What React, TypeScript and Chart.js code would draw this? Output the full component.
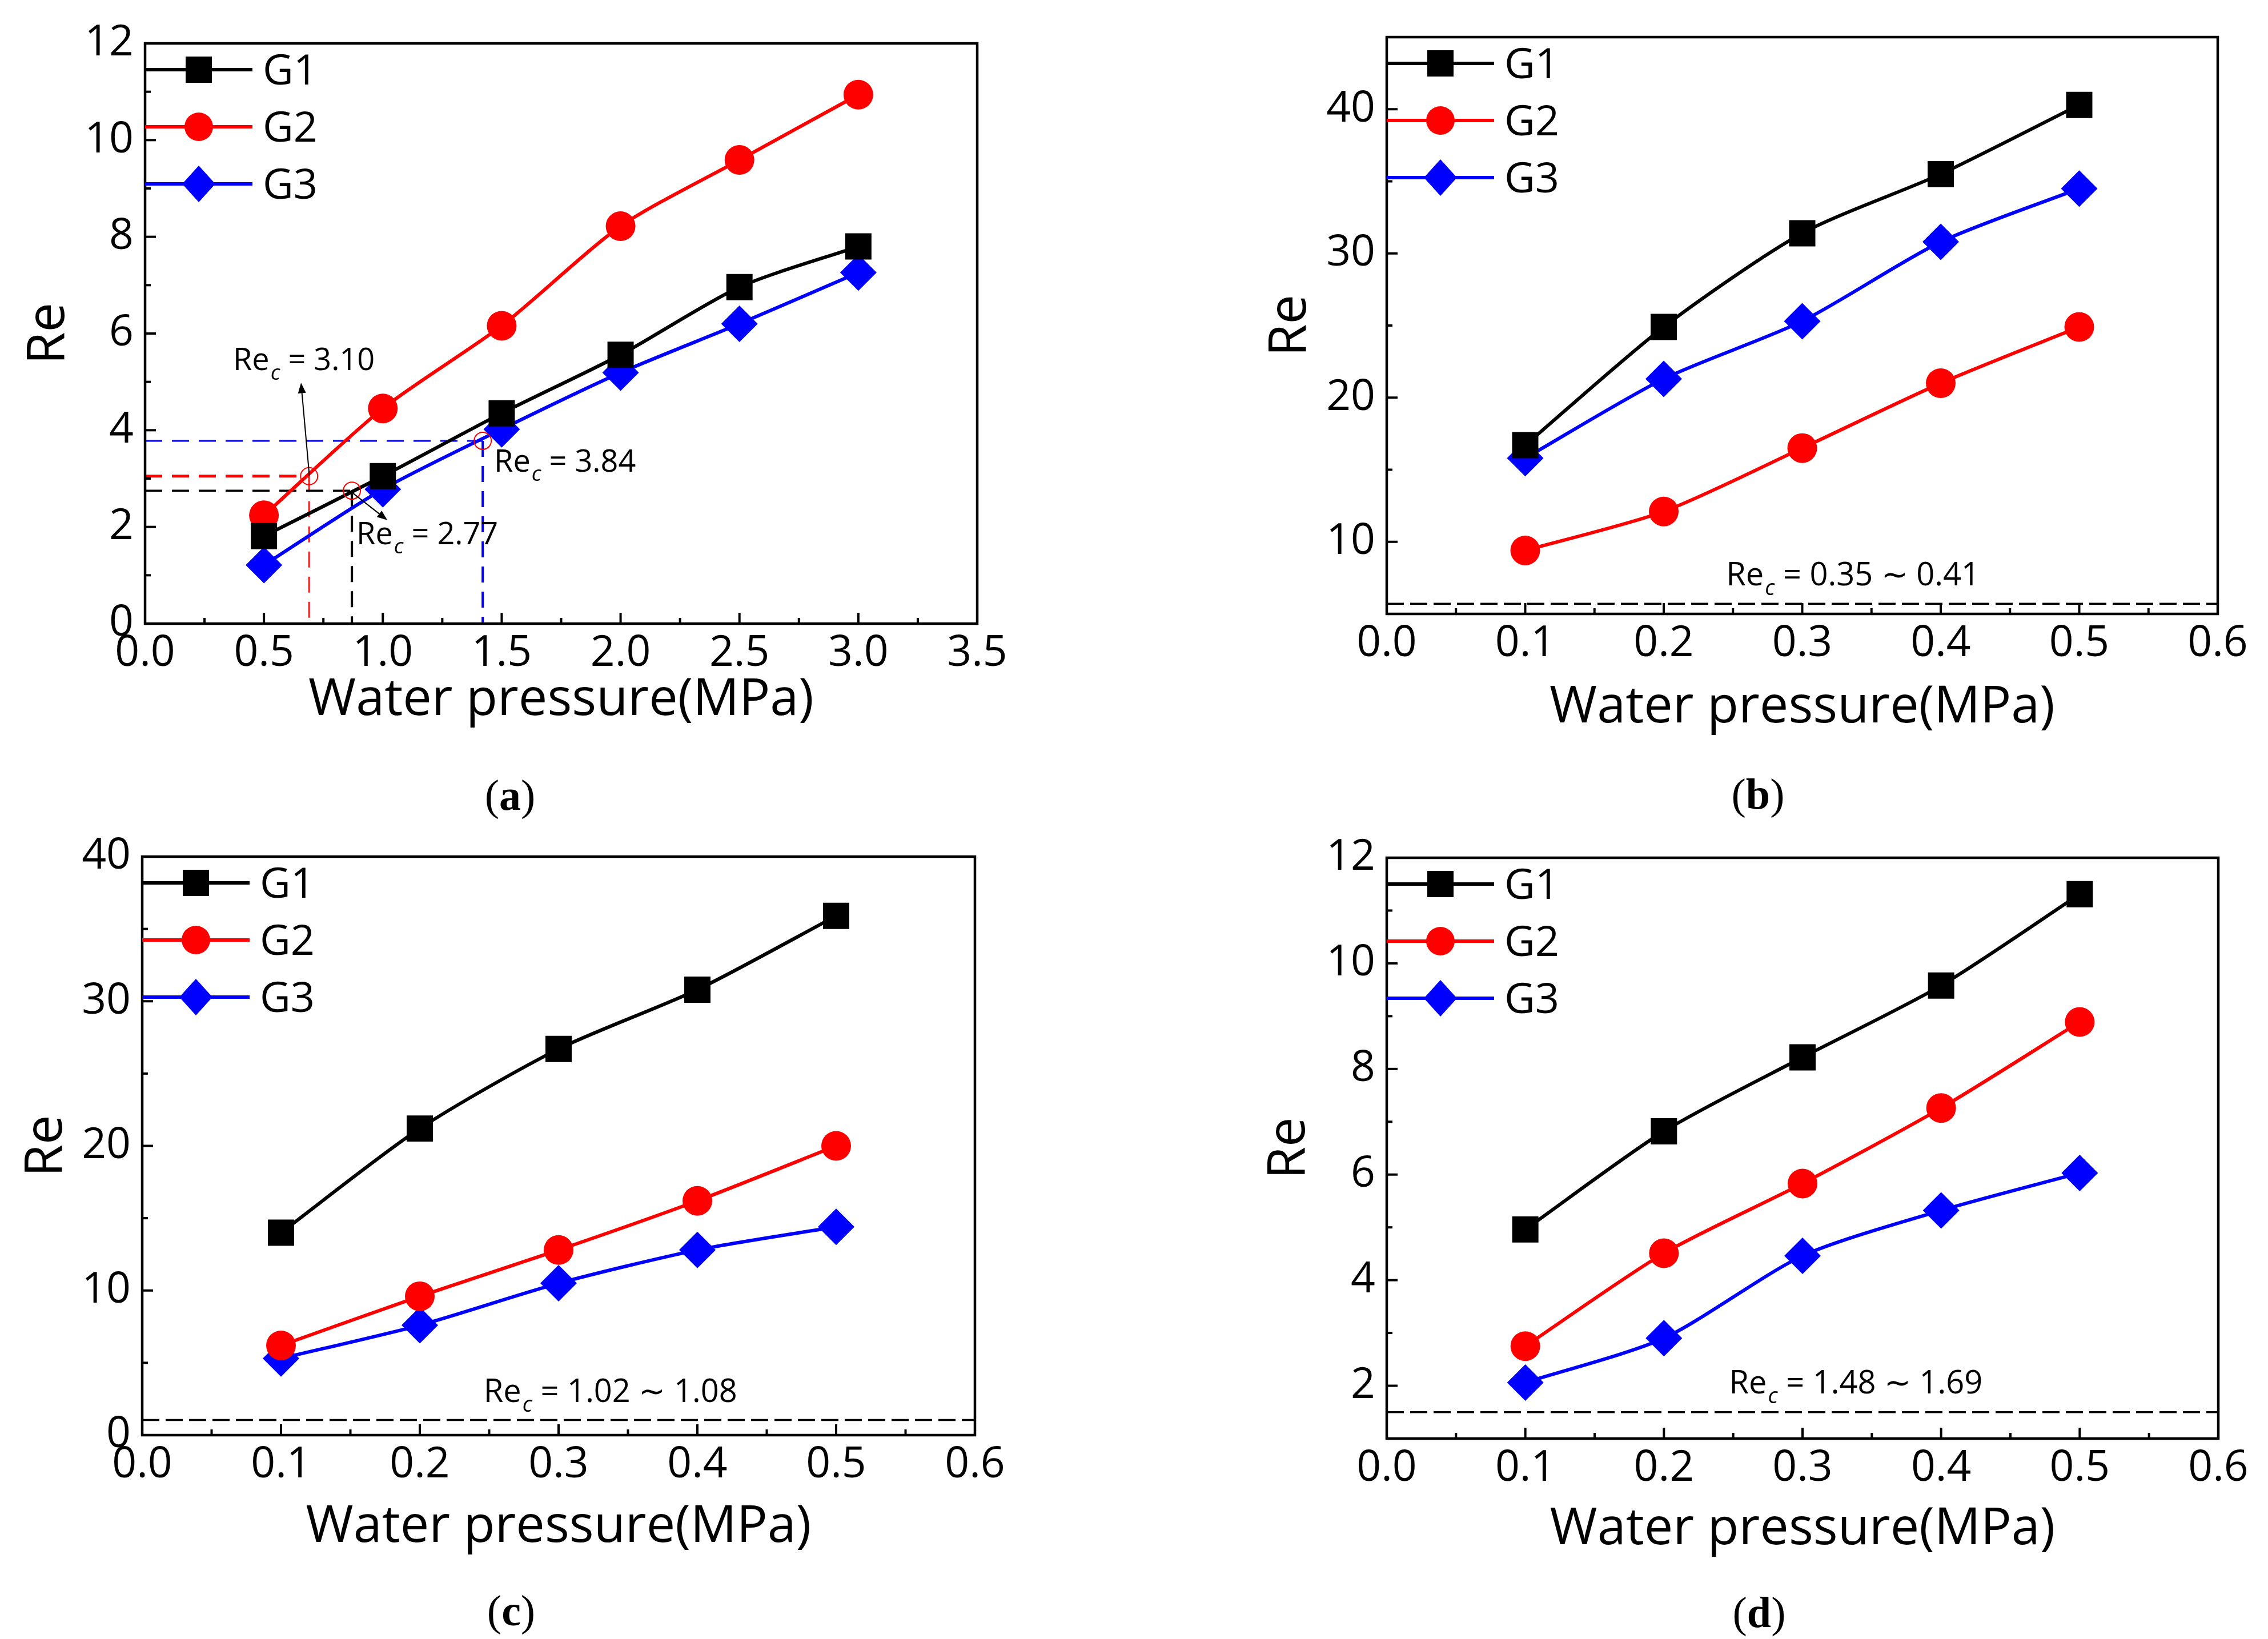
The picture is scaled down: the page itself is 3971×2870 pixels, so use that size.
import { useEffect, useRef } from 'react'
import { Chart, registerables } from 'chart.js'

Chart.register(...registerables)

const FONT = '"Open Sans", "Noto Sans", sans-serif'

const SERIES_NAMES = ['G1', 'G2', 'G3']
const SERIES_COLORS = ['#000000', '#ff0000', '#0000ff']
const SERIES_SHAPES = ['rect', 'circle', 'rectRot']
const SERIES_RADII = [32.5, 26, 32]

// (a)
const aPressure = [0.5, 1.0, 1.5, 2.0, 2.5, 3.0]
const aG1 = [1.81, 3.05, 4.35, 5.56, 6.96, 7.8]
const aG2 = [2.24, 4.45, 6.16, 8.22, 9.59, 10.94]
const aG3 = [1.21, 2.78, 4.02, 5.19, 6.2, 7.26]
const aXTicks = [0, 0.5, 1.0, 1.5, 2.0, 2.5, 3.0, 3.5]
const aYTicks = [0, 2, 4, 6, 8, 10, 12]

// (b), (c), (d) share the pressure steps
const bcdPressure = [0.1, 0.2, 0.3, 0.4, 0.5]
const bcdXTicks = [0, 0.1, 0.2, 0.3, 0.4, 0.5, 0.6]

const bG1 = [16.7, 24.9, 31.4, 35.5, 40.3]
const bG2 = [9.4, 12.1, 16.5, 21.0, 24.9]
const bG3 = [15.8, 21.3, 25.3, 30.8, 34.5]
const bYTicks = [10, 20, 30, 40]

const cG1 = [14.0, 21.2, 26.7, 30.8, 35.9]
const cG2 = [6.2, 9.6, 12.8, 16.2, 20.0]
const cG3 = [5.3, 7.6, 10.5, 12.8, 14.4]
const cYTicks = [0, 10, 20, 30, 40]

const dG1 = [4.96, 6.82, 8.22, 9.58, 11.31]
const dG2 = [2.75, 4.51, 5.83, 7.26, 8.89]
const dG3 = [2.06, 2.9, 4.46, 5.32, 6.03]
const dYTicks = [2, 4, 6, 8, 10, 12]

// critical Re marks in (a): red G2, black G1, blue G3
const critLabels = ['3.10', '2.77', '3.84']
const critX = [0.69, 0.87, 1.42]
const critY = [3.05, 2.75, 3.78]
const critColors = ['#ff0000', '#000000', '#0000ff']
const critHWidth = [5, 3.5, 3]
const critVWidth = [2.5, 4, 4]
const critTextX = [0.37, 0.889, 1.468]
const critTextY = [5.24, 1.64, 3.14]
const arrowFrom = [[0.691, 3.06], [0.866, 2.73]]
const arrowTo = [[0.656, 4.98], [1.019, 2.14]]

// Re_c band lines in (b), (c), (d)
const bandLabels = ['0.35 ∼ 0.41', '1.02 ∼ 1.08', '1.48 ∼ 1.69']
const bandLineY = [5.7, 1.05, 1.5]
const bandTextX = [0.245, 0.246, 0.247]
const bandTextY = [6.97, 2.28, 1.85]

type Band = { y: number; label: string; tx: number; ty: number }

type Panel = {
    id: string
    left: number
    top: number
    width: number
    height: number
    pad: { top: number; right: number }
    yAxisW: number
    xAxisH: number
    yTitlePad: number
    xTitlePad: number
    xMin: number
    xMax: number
    yMin: number
    yMax: number
    xValues: number[]
    series: number[][]
    xTicks: number[]
    yTicks: number[]
    captionX: number
    captionY: number
    band?: Band
    crit?: boolean
}

const PANELS: Panel[] = [
    {
        id: 'a', left: 0, top: 0, width: 1985, height: 1435,
        pad: { top: 76, right: 274 }, yAxisW: 254, xAxisH: 343, yTitlePad: 31, xTitlePad: 155,
        xMin: 0, xMax: 3.5, yMin: 0, yMax: 12,
        xValues: aPressure, series: [aG1, aG2, aG3], xTicks: aXTicks, yTicks: aYTicks,
        captionX: 893, captionY: 1392, crit: true,
    },
    {
        id: 'b', left: 1985, top: 0, width: 1986, height: 1435,
        pad: { top: 58, right: 88 }, yAxisW: 443, xAxisH: 360, yTitlePad: 220, xTitlePad: 142,
        xMin: 0, xMax: 0.6, yMin: 5, yMax: 45,
        xValues: bcdPressure, series: [bG1, bG2, bG3], xTicks: bcdXTicks, yTicks: bYTicks,
        captionX: 3078, captionY: 1390,
        band: { y: bandLineY[0], label: bandLabels[0], tx: bandTextX[0], ty: bandTextY[0] },
    },
    {
        id: 'c', left: 0, top: 1435, width: 1985, height: 1435,
        pad: { top: 62, right: 278 }, yAxisW: 249, xAxisH: 357, yTitlePad: 27, xTitlePad: 142,
        xMin: 0, xMax: 0.6, yMin: 0, yMax: 40,
        xValues: bcdPressure, series: [cG1, cG2, cG3], xTicks: bcdXTicks, yTicks: cYTicks,
        captionX: 895, captionY: 2820,
        band: { y: bandLineY[1], label: bandLabels[1], tx: bandTextX[1], ty: bandTextY[1] },
    },
    {
        id: 'd', left: 1985, top: 1435, width: 1986, height: 1435,
        pad: { top: 67, right: 87 }, yAxisW: 443, xAxisH: 351, yTitlePad: 218, xTitlePad: 138,
        xMin: 0, xMax: 0.6, yMin: 1, yMax: 12,
        xValues: bcdPressure, series: [dG1, dG2, dG3], xTicks: bcdXTicks, yTicks: dYTicks,
        captionX: 3080, captionY: 2823,
        band: { y: bandLineY[2], label: bandLabels[2], tx: bandTextX[2], ty: bandTextY[2] },
    },
]

// half-way ticks between the labelled ones, kept inside the axis range
function minorTicks(major: number[], min: number, max: number) {
    const step = major[1] - major[0]
    const out: number[] = []
    const cand = [...major.map(v => v - step / 2), major[major.length - 1] + step / 2]
    for (const v of cand) if (v >= min - 1e-9 && v <= max + 1e-9) out.push(v)
    return out
}

function drawMarker(ctx: CanvasRenderingContext2D, shape: string, x: number, y: number, color: string) {
    ctx.fillStyle = color
    ctx.beginPath()
    if (shape === 'rect') ctx.rect(x - 23, y - 23, 46, 46)
    else if (shape === 'circle') ctx.arc(x, y, 25, 0, Math.PI * 2)
    else {
        ctx.moveTo(x, y - 32)
        ctx.lineTo(x + 29, y)
        ctx.lineTo(x, y + 32)
        ctx.lineTo(x - 29, y)
        ctx.closePath()
    }
    ctx.fill()
}

function drawRec(ctx: CanvasRenderingContext2D, x: number, y: number, value: string, size: number) {
    ctx.fillStyle = '#000'
    ctx.textAlign = 'left'
    ctx.textBaseline = 'alphabetic'
    ctx.font = `${size}px ${FONT}`
    ctx.fillText('Re', x, y)
    let w = ctx.measureText('Re').width + 2
    ctx.font = `italic ${Math.round(size * 0.68)}px ${FONT}`
    ctx.fillText('c', x + w, y + size * 0.3)
    w += ctx.measureText('c').width
    ctx.font = `${size}px ${FONT}`
    ctx.fillText(' = ' + value, x + w, y)
}

function drawArrow(ctx: CanvasRenderingContext2D, x1: number, y1: number, x2: number, y2: number) {
    const ang = Math.atan2(y2 - y1, x2 - x1)
    ctx.strokeStyle = '#000'
    ctx.fillStyle = '#000'
    ctx.lineWidth = 2
    ctx.setLineDash([])
    ctx.beginPath()
    ctx.moveTo(x1, y1)
    ctx.lineTo(x2 - Math.cos(ang) * 10, y2 - Math.sin(ang) * 10)
    ctx.stroke()
    ctx.beginPath()
    ctx.moveTo(x2, y2)
    ctx.lineTo(x2 - Math.cos(ang) * 18 + Math.sin(ang) * 7, y2 - Math.sin(ang) * 18 - Math.cos(ang) * 7)
    ctx.lineTo(x2 - Math.cos(ang) * 18 - Math.sin(ang) * 7, y2 - Math.sin(ang) * 18 + Math.cos(ang) * 7)
    ctx.closePath()
    ctx.fill()
}

function decorPlugin(p: Panel) {
    return {
        id: 'decor' + p.id,
        beforeDatasetsDraw(chart: any) {
            const { ctx, chartArea: a, scales } = chart
            const x = scales.x
            const y = scales.y
            ctx.save()
            ctx.beginPath()
            ctx.rect(a.left, a.top, a.right - a.left, a.bottom - a.top)
            ctx.clip()
            if (p.band) {
                const py = y.getPixelForValue(p.band.y)
                ctx.strokeStyle = '#000'
                ctx.lineWidth = 3.5
                ctx.setLineDash([30, 11])
                ctx.beginPath()
                ctx.moveTo(a.left, py)
                ctx.lineTo(a.right, py)
                ctx.stroke()
            }
            if (p.crit) {
                critX.forEach((cx, i) => {
                    const px = x.getPixelForValue(cx)
                    const py = y.getPixelForValue(critY[i])
                    ctx.strokeStyle = critColors[i]
                    ctx.setLineDash([30, 17])
                    ctx.lineWidth = critHWidth[i]
                    ctx.beginPath()
                    ctx.moveTo(a.left, py)
                    ctx.lineTo(px, py)
                    ctx.stroke()
                    ctx.setLineDash([28, 16])
                    ctx.lineWidth = critVWidth[i]
                    ctx.beginPath()
                    ctx.moveTo(px, py)
                    ctx.lineTo(px, a.bottom)
                    ctx.stroke()
                })
            }
            ctx.restore()
        },
        afterDatasetsDraw(chart: any) {
            const { ctx, chartArea: a, scales } = chart
            const x = scales.x
            const y = scales.y
            ctx.save()
            ctx.setLineDash([])

            // frame
            ctx.strokeStyle = '#000'
            ctx.lineWidth = 4.5
            ctx.strokeRect(a.left, a.top, a.right - a.left, a.bottom - a.top)

            // inward ticks on bottom and left
            ctx.lineWidth = 4
            const tick = (v: number, len: number, horiz: boolean) => {
                ctx.beginPath()
                if (horiz) {
                    const px = x.getPixelForValue(v)
                    ctx.moveTo(px, a.bottom)
                    ctx.lineTo(px, a.bottom - len)
                } else {
                    const py = y.getPixelForValue(v)
                    ctx.moveTo(a.left, py)
                    ctx.lineTo(a.left + len, py)
                }
                ctx.stroke()
            }
            p.xTicks.forEach(v => tick(v, 19, true))
            minorTicks(p.xTicks, p.xMin, p.xMax).forEach(v => tick(v, 10, true))
            p.yTicks.forEach(v => tick(v, 19, false))
            minorTicks(p.yTicks, p.yMin, p.yMax).forEach(v => tick(v, 10, false))

            // legend
            SERIES_NAMES.forEach((name, i) => {
                const ly = a.top + 46 + i * 100
                ctx.strokeStyle = SERIES_COLORS[i]
                ctx.lineWidth = 6
                ctx.beginPath()
                ctx.moveTo(a.left, ly)
                ctx.lineTo(a.left + 188, ly)
                ctx.stroke()
                drawMarker(ctx, SERIES_SHAPES[i], a.left + 94, ly, SERIES_COLORS[i])
                ctx.fillStyle = '#000'
                ctx.font = `74px ${FONT}`
                ctx.textAlign = 'left'
                ctx.textBaseline = 'middle'
                ctx.fillText(name, a.left + 206, ly + 5)
            })

            if (p.band) {
                drawRec(ctx, x.getPixelForValue(p.band.tx), y.getPixelForValue(p.band.ty), p.band.label, 56)
            }

            if (p.crit) {
                critX.forEach((cx, i) => {
                    ctx.strokeStyle = '#ff0000'
                    ctx.lineWidth = 2
                    ctx.beginPath()
                    ctx.arc(x.getPixelForValue(cx), y.getPixelForValue(critY[i]), 15, 0, Math.PI * 2)
                    ctx.stroke()
                    drawRec(ctx, x.getPixelForValue(critTextX[i]), y.getPixelForValue(critTextY[i]), critLabels[i], 54)
                })
                arrowFrom.forEach((f, i) => {
                    drawArrow(ctx,
                        x.getPixelForValue(f[0]), y.getPixelForValue(f[1]),
                        x.getPixelForValue(arrowTo[i][0]), y.getPixelForValue(arrowTo[i][1]))
                })
            }
            ctx.restore()
        },
    }
}

function PanelChart({ p }: { p: Panel }) {
    const canvasRef = useRef<HTMLCanvasElement | null>(null)
    const chartRef = useRef<Chart | null>(null)

    useEffect(() => {
        if (!canvasRef.current) return
        const ctx = canvasRef.current.getContext('2d')!

        if (chartRef.current) {
            chartRef.current.destroy()
            chartRef.current = null
        }

        const datasets = p.series.map((vals, i) => ({
            label: SERIES_NAMES[i],
            data: vals.map((v, k) => ({ x: p.xValues[k], y: v })),
            borderColor: SERIES_COLORS[i],
            backgroundColor: SERIES_COLORS[i],
            borderWidth: 6,
            tension: 0.25,
            pointStyle: SERIES_SHAPES[i] as any,
            pointRadius: SERIES_RADII[i],
            pointBackgroundColor: SERIES_COLORS[i],
            pointBorderWidth: 0,
            clip: false as any,
        }))

        chartRef.current = new Chart(ctx, {
            type: 'line',
            data: { datasets },
            options: {
                responsive: false,
                animation: false,
                devicePixelRatio: 1,
                events: [],
                layout: { padding: { left: 0, top: p.pad.top, right: p.pad.right, bottom: 0 } },
                plugins: {
                    legend: { display: false },
                    tooltip: { enabled: false },
                },
                scales: {
                    x: {
                        type: 'linear',
                        min: p.xMin,
                        max: p.xMax,
                        grid: { display: false, drawTicks: false },
                        border: { display: false },
                        afterBuildTicks: (s: any) => { s.ticks = p.xTicks.map(v => ({ value: v })) },
                        afterFit: (s: any) => { s.height = p.xAxisH },
                        ticks: {
                            color: '#000',
                            font: { family: FONT, size: 75 },
                            padding: 8,
                            maxRotation: 0,
                            autoSkip: false,
                            callback: (v: any) => Number(v).toFixed(1),
                        },
                        title: {
                            display: true,
                            text: 'Water pressure(MPa)',
                            color: '#000',
                            font: { family: FONT, size: 90 },
                            padding: { top: 0, bottom: p.xTitlePad },
                        },
                    },
                    y: {
                        type: 'linear',
                        min: p.yMin,
                        max: p.yMax,
                        grid: { display: false, drawTicks: false },
                        border: { display: false },
                        afterBuildTicks: (s: any) => { s.ticks = p.yTicks.map(v => ({ value: v })) },
                        afterFit: (s: any) => { s.width = p.yAxisW },
                        ticks: {
                            color: '#000',
                            font: { family: FONT, size: 75 },
                            padding: 20,
                            autoSkip: false,
                            callback: (v: any) => String(v),
                        },
                        title: {
                            display: true,
                            text: 'Re',
                            color: '#000',
                            font: { family: FONT, size: 92 },
                            padding: { top: p.yTitlePad, bottom: 0 },
                        },
                    },
                },
            },
            plugins: [decorPlugin(p)],
        })

        return () => chartRef.current?.destroy()
    }, [p])

    return (
        <canvas
            ref={canvasRef}
            width={p.width}
            height={p.height}
            style={{ position: 'absolute', left: p.left, top: p.top, width: p.width, height: p.height }}
        />
    )
}

export default function App() {
    useEffect(() => {
        document.body.style.margin = '0'
        document.body.style.overflow = 'hidden'
    }, [])

    return (
        <div style={{ position: 'absolute', left: 0, top: 0, width: 3971, height: 2870, background: '#fff', overflow: 'hidden' }}>
            {PANELS.map(p => <PanelChart key={p.id} p={p} />)}
            {PANELS.map(p => (
                <div
                    key={'cap' + p.id}
                    style={{
                        position: 'absolute',
                        left: p.captionX,
                        top: p.captionY,
                        transform: 'translate(-50%, -50%)',
                        fontFamily: '"Times New Roman", "Liberation Serif", serif',
                        fontSize: 76,
                        lineHeight: 1,
                        whiteSpace: 'nowrap',
                        color: '#000',
                    }}
                >
                    (<b>{p.id}</b>)
                </div>
            ))}
        </div>
    )
}
